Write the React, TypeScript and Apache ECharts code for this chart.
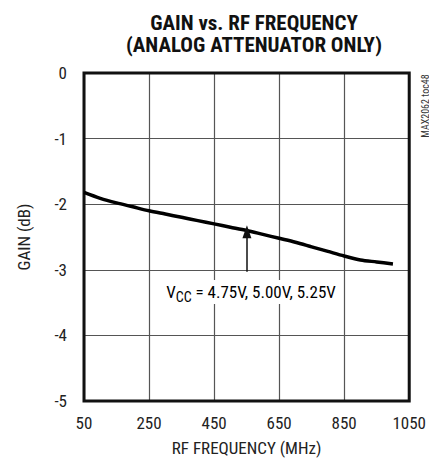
import React, { useEffect, useRef } from "react";
import * as echarts from "echarts";

const FREQ_OFFSET = 50;
const freqMHz = [50, 100, 150, 200, 250, 300, 350, 400, 450, 500, 550, 600, 650, 700, 750, 800, 850, 900, 950, 1000];
const gainDb = [-1.82, -1.91, -1.98, -2.04, -2.10, -2.15, -2.20, -2.25, -2.30, -2.35, -2.40, -2.46, -2.52, -2.58, -2.65, -2.72, -2.79, -2.85, -2.88, -2.91];
const arrowFreq = 551;
const arrowTopGain = -2.42;
const arrowBottomGain = -3.03;
const titleLines = ["GAIN vs. RF FREQUENCY", "(ANALOG ATTENUATOR ONLY)"];

const FONT = "'Liberation Sans Narrow', 'Roboto Condensed', 'Liberation Sans', Arial, sans-serif";

export default function App() {
  const ref = useRef<HTMLDivElement>(null);
  useEffect(() => {
    if (!ref.current) return;
    const chart = echarts.init(ref.current, undefined, { renderer: "svg" });
    chart.setOption({
      animation: false,
      backgroundColor: "#ffffff",
      title: {
        text: titleLines.join("\n"),
        left: 249,
        textAlign: "center",
        top: 7,
        textStyle: { fontFamily: FONT, fontWeight: "bold", fontSize: 21, lineHeight: 22, color: "#111" },
      },
      grid: {
        left: 84,
        right: 14,
        top: 73,
        bottom: 58,
        show: true,
        borderColor: "#111",
        borderWidth: 3,
        backgroundColor: "transparent",
        z: 3,
      },
      xAxis: {
        type: "value",
        min: 0,
        max: 1000,
        interval: 200,
        name: "RF FREQUENCY (MHz)",
        nameLocation: "middle",
        nameGap: 38,
        nameTextStyle: { fontFamily: FONT, fontSize: 17, color: "#222" },
        axisLine: { show: false },
        axisTick: { show: false },
        axisLabel: {
          formatter: (v: number) => String(v + FREQ_OFFSET),
          fontFamily: FONT,
          fontSize: 17,
          color: "#222",
          margin: 13,
        },
        splitLine: { show: true, lineStyle: { color: "#555", width: 1.2 } },
      },
      yAxis: {
        type: "value",
        min: -5,
        max: 0,
        interval: 1,
        name: "GAIN (dB)",
        nameLocation: "middle",
        nameGap: 52,
        nameTextStyle: { fontFamily: FONT, fontSize: 17, color: "#222" },
        axisLine: { show: false },
        axisTick: { show: false },
        axisLabel: { fontFamily: FONT, fontSize: 17, color: "#222", margin: 17 },
        splitLine: { show: true, lineStyle: { color: "#555", width: 1.2 } },
      },
      series: [
        {
          type: "line",
          data: freqMHz.map((f, i) => [f - FREQ_OFFSET, gainDb[i]]),
          showSymbol: false,
          smooth: 0.3,
          lineStyle: { color: "#000", width: 3.5 },
          z: 4,
          markLine: {
            silent: true,
            symbol: ["none", "triangle"],
            symbolSize: [9, 13],
            label: { show: false },
            lineStyle: { color: "#111", width: 1.5, type: "solid" },
            data: [
              [
                { coord: [arrowFreq - FREQ_OFFSET, arrowBottomGain] },
                { coord: [arrowFreq - FREQ_OFFSET, arrowTopGain] },
              ],
            ],
          },
        },
      ],
      graphic: [
        {
          type: "text",
          x: 251,
          y: 292,
          z: 10,
          style: {
            text: "{v|V}{s|CC}{v| = 4.75V, 5.00V, 5.25V}",
            align: "center",
            verticalAlign: "middle",
            backgroundColor: "#fff",
            padding: [3, 6, 3, 6],
            rich: {
              v: { fontFamily: FONT, fontSize: 17, color: "#222", lineHeight: 18, verticalAlign: "top" },
              s: { fontFamily: FONT, fontSize: 14, color: "#222", lineHeight: 15, verticalAlign: "top", padding: [7, 0, 0, 0] },
            },
          },
        },
        {
          type: "text",
          x: 425,
          y: 106,
          rotation: Math.PI / 2,
          style: {
            text: "MAX2062 toc48",
            align: "center",
            verticalAlign: "middle",
            fontFamily: FONT,
            fontSize: 10,
            fill: "#333",
          },
        },
      ],
    });
    return () => chart.dispose();
  }, []);
  return <div ref={ref} style={{ width: 429, height: 461, position: "absolute", left: 0, top: 0 }} />;
}
